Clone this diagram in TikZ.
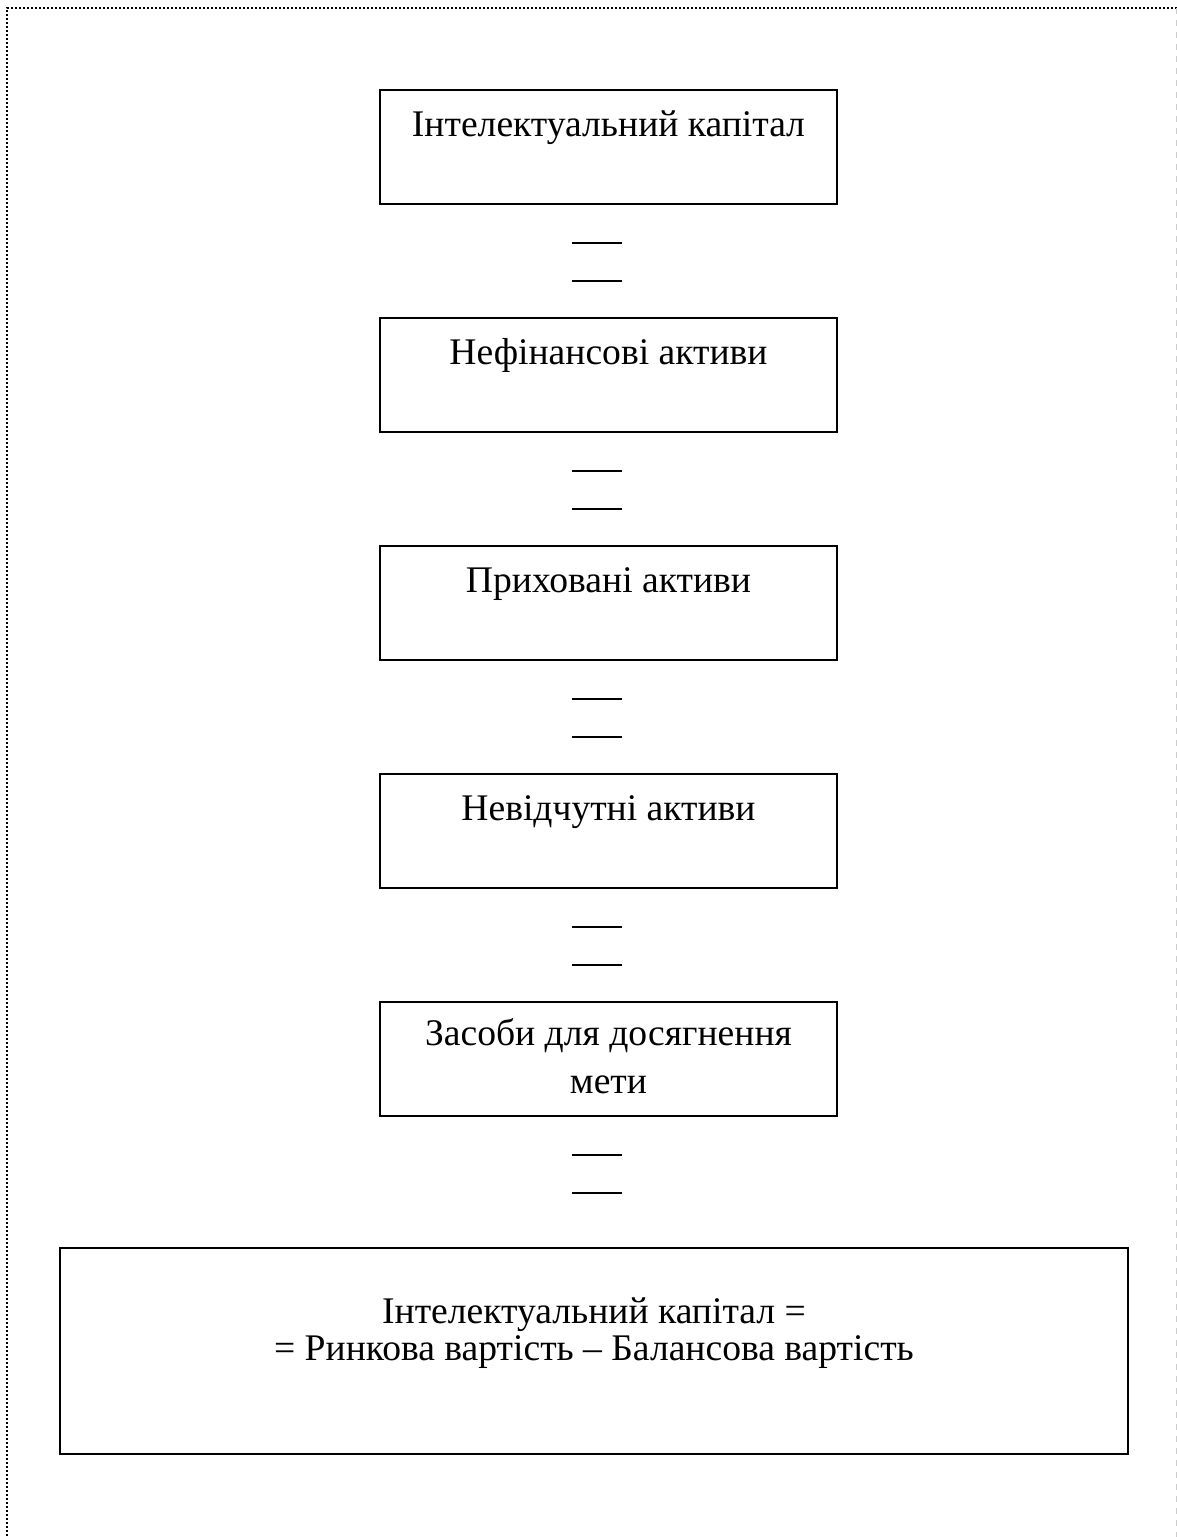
\documentclass[tikz,border=0pt]{standalone}
\usepackage{fontspec}
\setmainfont{Liberation Serif}
\usepackage{tikz}
\usetikzlibrary{calc,positioning}
\tikzset{
  eqsign/.pic={
    \draw[line width=0.75pt] (-25,0) -- ++(50,0);
    \draw[line width=0.75pt] (-25,38) -- ++(50,0);
  },
  box/.style={draw, line width=1pt, inner sep=0pt,
    minimum width=228.5pt, minimum height=57pt,
    align=center, font=\fontsize{18.8}{24}\selectfont,
    text height=23pt, text depth=34pt},
  frameline/.style={line width=1.1pt, dash pattern=on 1pt off 1pt},
}
\begin{document}
\begin{tikzpicture}[x=0.5pt,y=-0.5pt]
\useasboundingbox (0,0) rectangle (1177,1537);
% frame of the page
\draw[frameline]
  (1177,8) -- (7,8) -- (7,1537);
\draw[gray!40, line width=0.4pt, dashed]
  (1176,8) -- (1176,1537);
\node[box] (cap) at (608.5,147) {Інтелектуальний капітал};
\node[box] (nonfin) at (608.5,375) {Нефінансові активи};
\node[box] (hidden) at (608.5,603) {Приховані активи};
\node[box] (intang) at (608.5,831) {Невідчутні активи};
\node[box, text height=45.5pt, text depth=11.5pt]
  (means) at (608.5,1059) {Засоби для досягнення\\мети};
\node[box, minimum width=534pt, minimum height=103pt,
  text height=56pt, text depth=47pt,
  font=\fontsize{18.8}{18.5}\selectfont]
  (formula) at (594,1351) {Інтелектуальний капітал =\\= Ринкова вартість – Балансова вартість};
\path
  pic at ($(cap.south)+(-11.5,38)$) {eqsign}
  pic at ($(nonfin.south)+(-11.5,38)$) {eqsign}
  pic at ($(hidden.south)+(-11.5,38)$) {eqsign}
  pic at ($(intang.south)+(-11.5,38)$) {eqsign}
  pic at ($(means.south)+(-11.5,38)$) {eqsign};
\end{tikzpicture}
\end{document}
